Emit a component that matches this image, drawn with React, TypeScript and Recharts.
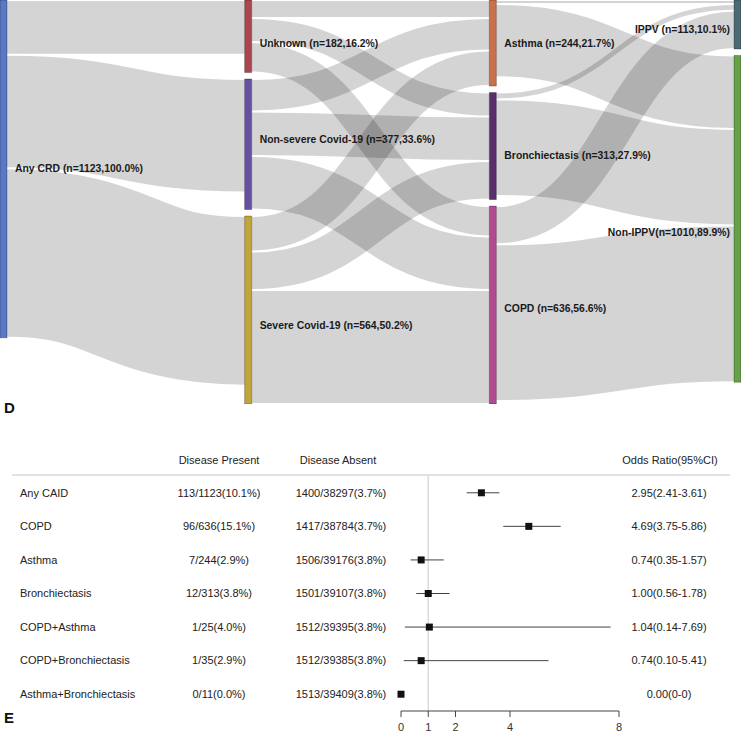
import React from 'react';
import {
  Sankey,
  Rectangle,
  Layer,
  ScatterChart,
  Scatter,
  XAxis,
  YAxis,
  ErrorBar,
  ReferenceLine,
} from 'recharts';

// ---- panel D: flows ----
const nodeNames = [
  'Any CRD (n=1123,100.0%)',
  'Unknown (n=182,16.2%)',
  'Non-severe Covid-19 (n=377,33.6%)',
  'Severe Covid-19 (n=564,50.2%)',
  'Asthma (n=244,21.7%)',
  'Bronchiectasis (n=313,27.9%)',
  'COPD (n=636,56.6%)',
  'IPPV (n=113,10.1%)',
  'Non-IPPV(n=1010,89.9%)',
];
const nodeColors = ['#5b78c4', '#a9464f', '#6551a3', '#c1a539', '#c8714b', '#5a2d6c', '#b04a91', '#4b6a71', '#67a048'];

// band weights estimated from the drawn widths
const linkSource = [0, 0, 0, 1, 1, 1, 2, 2, 2, 3, 3, 3, 4, 4, 5, 5, 6, 6];
const linkTarget = [1, 2, 3, 4, 5, 6, 4, 5, 6, 4, 5, 6, 7, 8, 7, 8, 7, 8];
const linkValue = [182, 377, 564, 60, 80, 101, 108, 148, 178, 118, 128, 379, 13, 244, 23, 321, 127, 521];

// ---- panel E: forest plot ----
const rowLabels = ['Any CAID', 'COPD', 'Asthma', 'Bronchiectasis', 'COPD+Asthma', 'COPD+Bronchiectasis', 'Asthma+Bronchiectasis'];
const presentText = ['113/1123(10.1%)', '96/636(15.1%)', '7/244(2.9%)', '12/313(3.8%)', '1/25(4.0%)', '1/35(2.9%)', '0/11(0.0%)'];
const absentText = ['1400/38297(3.7%)', '1417/38784(3.7%)', '1506/39176(3.8%)', '1501/39107(3.8%)', '1512/39395(3.8%)', '1512/39385(3.8%)', '1513/39409(3.8%)'];
const orText = ['2.95(2.41-3.61)', '4.69(3.75-5.86)', '0.74(0.35-1.57)', '1.00(0.56-1.78)', '1.04(0.14-7.69)', '0.74(0.10-5.41)', '0.00(0-0)'];
const oddsRatio = [2.95, 4.69, 0.74, 1.0, 1.04, 0.74, 0.0];
const ciLow = [2.41, 3.75, 0.35, 0.56, 0.14, 0.1, 0];
const ciHigh = [3.61, 5.86, 1.57, 1.78, 7.69, 5.41, 0];
const xTicks = [0, 1, 2, 4, 8];

const FONT = "'Liberation Sans', Arial, Helvetica, sans-serif";
const labelShift = [0, 7, -5, 15, 0, 9, 3, 5, 14];

const sankeyData = {
  nodes: nodeNames.map((name) => ({ name })),
  links: linkValue.map((value, i) => ({ source: linkSource[i], target: linkTarget[i], value })),
};

const forestData = rowLabels.map((name, i) => ({
  name,
  row: i,
  or: oddsRatio[i],
  err: [oddsRatio[i] - ciLow[i], ciHigh[i] - oddsRatio[i]],
}));

const SankeyNode = (props: any) => {
  const { x, y, width, height, index, payload } = props;
  const last = x > 700;
  return (
    <Layer key={`node-${index}`}>
      <Rectangle
        x={x}
        y={y}
        width={width}
        height={height}
        fill={nodeColors[index]}
        stroke="rgba(0,0,0,0.35)"
        strokeWidth={0.8}
      />
      <text
        x={last ? x - 4 : x + width + 8}
        y={y + height / 2 + labelShift[index]}
        textAnchor={last ? 'end' : 'start'}
        dominantBaseline="central"
        fontFamily={FONT}
        fontSize={10.4}
        fontWeight="bold"
        fill="#1a1a1a"
      >
        {payload.name}
      </text>
    </Layer>
  );
};

const SankeyLink = (props: any) => {
  const { sourceX, targetX, sourceY, targetY, sourceControlX, targetControlX, linkWidth, index } = props;
  return (
    <path
      key={`link-${index}`}
      d={`M${sourceX},${sourceY} C${sourceControlX},${sourceY} ${targetControlX},${targetY} ${targetX},${targetY}`}
      fill="none"
      stroke="#000"
      strokeOpacity={0.17}
      strokeWidth={Math.max(linkWidth - 2, 1)}
    />
  );
};

const RowTick = (props: any) => {
  const { y, payload } = props;
  const i = Math.round(payload.value);
  if (i < 0 || i >= rowLabels.length) return <g />;
  const common = { y, dy: '0.35em', fontFamily: FONT, fontSize: 11, fill: '#222' };
  return (
    <g>
      <text x={20} textAnchor="start" {...common}>{rowLabels[i]}</text>
      <text x={219} textAnchor="middle" {...common}>{presentText[i]}</text>
      <text x={341} textAnchor="middle" {...common}>{absentText[i]}</text>
      <text x={669} textAnchor="middle" {...common}>{orText[i]}</text>
    </g>
  );
};

const Square = (p: any) => <rect x={p.cx - 3.5} y={p.cy - 3.5} width={7} height={7} fill="#111" />;

const headStyle: React.CSSProperties = {
  position: 'absolute',
  top: 455,
  fontFamily: FONT,
  fontSize: 11,
  lineHeight: 1,
  color: '#222',
  transform: 'translateX(-50%)',
  whiteSpace: 'nowrap',
};

const panelLetter: React.CSSProperties = {
  position: 'absolute',
  left: 4,
  fontFamily: FONT,
  fontSize: 15,
  fontWeight: 'bold',
  lineHeight: 1,
  color: '#111',
};

export default function App() {
  return (
    <div style={{ position: 'absolute', left: 0, top: 0, width: 741, height: 735, background: '#fff' }}>
      <div style={{ position: 'absolute', left: 0, top: 0 }}>
        <Sankey
          width={741}
          height={404}
          data={sankeyData}
          nodeWidth={7}
          nodePadding={6.5}
          iterations={0}
          margin={{ top: 0, right: 0, bottom: 0, left: 0 }}
          node={SankeyNode}
          link={SankeyLink}
        />
      </div>
      <div style={{ ...panelLetter, top: 400 }}>D</div>

      <div style={{ ...headStyle, left: 219 }}>Disease Present</div>
      <div style={{ ...headStyle, left: 338 }}>Disease Absent</div>
      <div style={{ ...headStyle, left: 670 }}>Odds Ratio(95%CI)</div>
      <div style={{ position: 'absolute', left: 12, top: 474, width: 718, height: 2, background: '#e2e2e2' }} />

      <div style={{ position: 'absolute', left: 0, top: 404 }}>
        <ScatterChart width={741} height={331} margin={{ top: 72, right: 122, bottom: 0, left: 400 }}>
          <XAxis
            type="number"
            dataKey="or"
            domain={[0, 8]}
            ticks={xTicks}
            height={24}
            tickSize={6}
            tickMargin={6}
            stroke="#444"
            tick={{ fontSize: 11, fill: '#333', fontFamily: FONT }}
          />
          <YAxis
            type="number"
            dataKey="row"
            domain={[-0.5, 6.5]}
            ticks={[0, 1, 2, 3, 4, 5, 6]}
            reversed
            width={1}
            axisLine={false}
            tickLine={false}
            interval={0}
            tick={(p: any) => <RowTick {...p} />}
          />
          <ReferenceLine x={1} stroke="#dcdcdc" strokeWidth={1.5} />
          <Scatter data={forestData} shape={Square} isAnimationActive={false}>
            <ErrorBar dataKey="err" direction="x" width={0} stroke="#444" strokeWidth={1} />
          </Scatter>
        </ScatterChart>
      </div>
      <div style={{ ...panelLetter, top: 710 }}>E</div>
    </div>
  );
}
